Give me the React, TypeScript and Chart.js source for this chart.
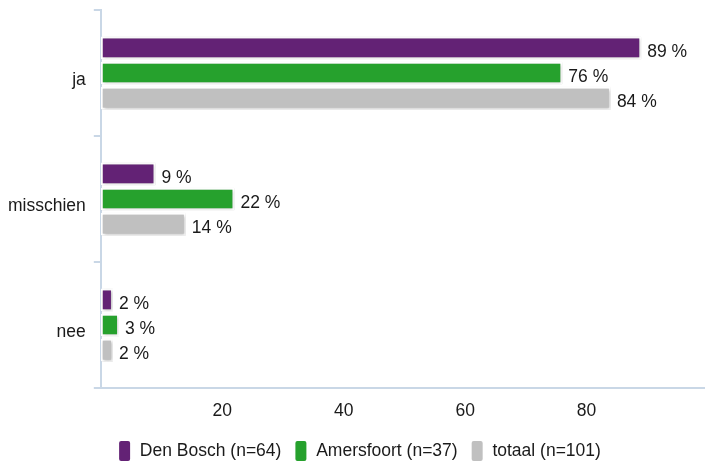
import React, { useEffect, useRef } from "react";
import { Chart, registerables } from "chart.js";

Chart.register(...registerables);

const categories = ["ja", "misschien", "nee"];
const seriesNames = ["Den Bosch (n=64)", "Amersfoort (n=37)", "totaal (n=101)"];
const denBosch = [89, 9, 2];
const amersfoort = [76, 22, 3];
const totaal = [84, 14, 2];
const xTicks = [20, 40, 60, 80];

const COLORS = ["#632275", "#26a12d", "#c0c0c0"];
const FONT = "'Liberation Sans', Arial, sans-serif";
const AXIS = "#c9d7e6";
const TEXT = "#1a1a1a";

const shadowPlugin = {
  id: "barShadow",
  beforeDatasetsDraw(chart: any) {
    const ctx = chart.ctx;
    ctx.save();
    ctx.shadowColor = "rgba(0,0,0,0.28)";
    ctx.shadowBlur = 3;
    ctx.shadowOffsetX = 1;
    ctx.shadowOffsetY = 1;
  },
  afterDatasetsDraw(chart: any) {
    chart.ctx.restore();
  },
};

const labelPlugin = {
  id: "valueLabels",
  afterDraw(chart: any) {
    const ctx = chart.ctx;
    ctx.save();
    ctx.font = `17.5px ${FONT}`;
    ctx.fillStyle = TEXT;
    ctx.textBaseline = "middle";
    ctx.textAlign = "left";
    chart.data.datasets.forEach((ds: any, i: number) => {
      const meta = chart.getDatasetMeta(i);
      meta.data.forEach((el: any, j: number) => {
        ctx.fillText(`${ds.data[j]} %`, el.x + 6, el.y + 4);
      });
    });
    ctx.restore();
  },
};

// nudge the legend a little to the right, as in the reference
const legendShiftPlugin = {
  id: "legendShift",
  afterLayout(chart: any) {
    if (chart.legend) chart.legend.left += 14;
  },
};

export default function App() {
  const ref = useRef<HTMLCanvasElement | null>(null);
  useEffect(() => {
    if (!ref.current) return;
    const chart = new Chart(ref.current, {
      type: "bar",
      data: {
        labels: categories,
        datasets: [denBosch, amersfoort, totaal].map((d, i) => ({
          label: seriesNames[i],
          data: d,
          backgroundColor: COLORS[i],
          borderColor: "#ffffff",
          borderWidth: 2,
          borderSkipped: false,
          categoryPercentage: 0.6,
          barPercentage: 0.9,
        })),
      },
      options: {
        indexAxis: "y",
        animation: false,
        responsive: true,
        maintainAspectRatio: false,
        layout: { padding: { top: 10, right: 0, left: 0, bottom: -7 } },
        scales: {
          x: {
            min: 0,
            max: 99.5,
            afterBuildTicks: (axis: any) => {
              axis.ticks = xTicks.map((v) => ({ value: v }));
            },
            afterFit: (scale: any) => {
              scale.height -= 8;
            },
            grid: { display: true, drawOnChartArea: false, drawTicks: false, color: "rgba(0,0,0,0)" },
            border: { display: true, color: AXIS, width: 2 },
            ticks: { font: { size: 17.5, family: FONT }, color: TEXT, padding: 13 },
          },
          y: {
            afterFit: (scale: any) => {
              scale.paddingTop = 0;
              scale.paddingBottom = 0;
            },
            grid: { display: true, drawOnChartArea: false, offset: true, tickLength: 7, color: AXIS, lineWidth: 2 },
            border: { display: true, color: AXIS, width: 2 },
            ticks: { font: { size: 17.5, family: FONT }, color: TEXT, padding: 8, labelOffset: 7 },
          },
        },
        plugins: {
          legend: {
            position: "bottom",
            labels: {
              font: { size: 17.5, family: FONT },
              color: TEXT,
              boxWidth: 13,
              boxHeight: 22,
              useBorderRadius: true,
              borderRadius: 3,
              padding: 13,
            },
          },
          tooltip: { enabled: false },
        },
      },
      plugins: [legendShiftPlugin, shadowPlugin, labelPlugin],
    } as any);
    return () => chart.destroy();
  }, []);
  return (
    <div style={{ position: "fixed", left: 0, top: 0, width: 705, height: 465 }}>
      <canvas ref={ref} />
    </div>
  );
}
